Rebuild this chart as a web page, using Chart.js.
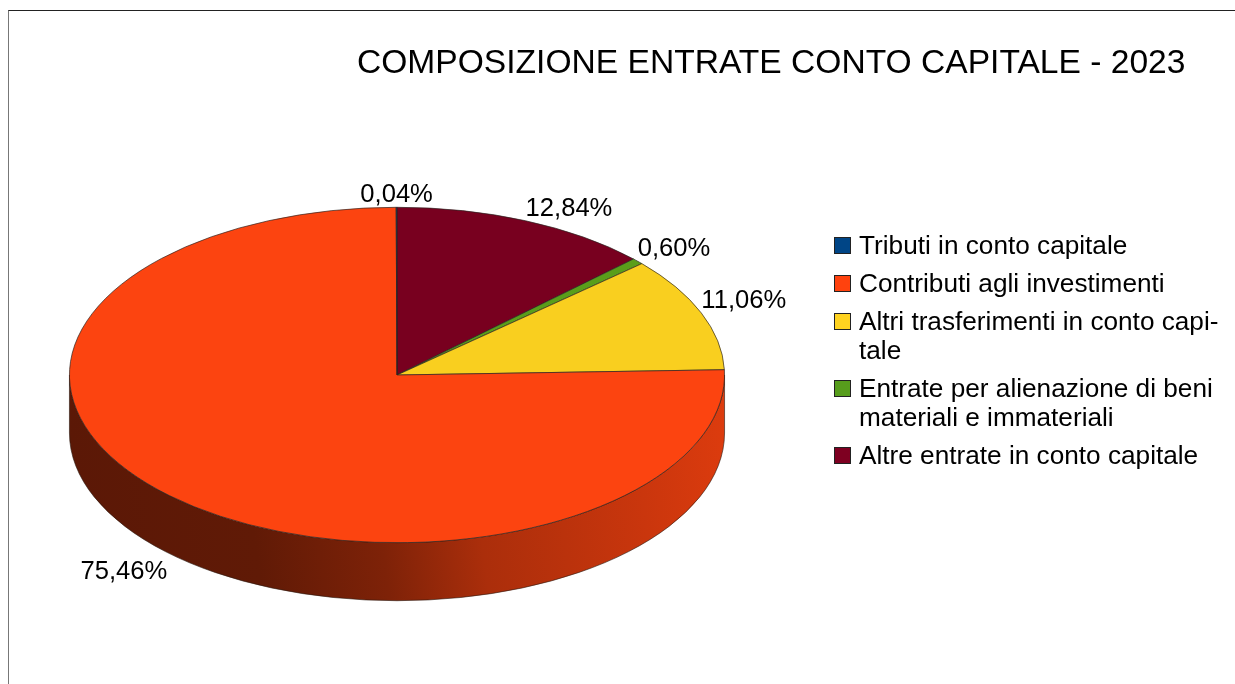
<!DOCTYPE html>
<html lang="it">
<head>
<meta charset="utf-8">
<title>Composizione entrate conto capitale - 2023</title>
<script src="https://cdn.jsdelivr.net/npm/chart.js@4"></script>
<style>
    html, body { margin: 0; padding: 0; background: #fff; }
    #wrap { position: relative; width: 1235px; height: 684px; overflow: hidden; font-family: "Liberation Sans", sans-serif; color: #000; }
    #wrap::before { content: ""; position: absolute; left: 8px; top: 10px; right: 0; bottom: 0; border-left: 1px solid #777; border-top: 1px solid #222; }
    canvas { position: absolute; left: 0; top: 0; }
    #titolo { position: absolute; left: 357px; top: 42px; font-size: 33.6px; line-height: 40px; white-space: nowrap; }
    #legenda { position: absolute; left: 834px; top: 231px; width: 400px; }
    .voce { position: relative; padding-left: 25px; font-size: 26.2px; line-height: 29px; margin-bottom: 9px; white-space: pre; }
    .voce i { position: absolute; left: 0; top: 6px; width: 15px; height: 15px; border: 1px solid #222; }
</style>
</head>
<body>
<div id="wrap">
    <canvas id="grafico" width="1235" height="684"></canvas>
    <div id="titolo"></div>
    <div id="legenda"></div>
</div>
<script>
const TITOLO = "COMPOSIZIONE ENTRATE CONTO CAPITALE - 2023";
const categorie = [
    "Tributi in conto capitale",
    "Contributi agli investimenti",
    "Altri trasferimenti in conto capi-\ntale",
    "Entrate per alienazione di beni\nmateriali e immateriali",
    "Altre entrate in conto capitale"
];
const valori = [0.04, 75.46, 11.06, 0.60, 12.84];
const colori = ["#004586", "#ff420e", "#ffd320", "#579d1c", "#7e0021"];
// sulla torta i colori sono un po' più spenti che in legenda
const coloriFette = ["#004586", "#fc4410", "#f9cf1f", "#5a9e1a", "#78001f"];

// geometria della torta "3D"
const SCHIACCIA = 0.512;  // rapporto asse verticale / orizzontale
const CENTRO_Y = 375;     // centro dell'ellisse sullo schermo
const SPESSORE = 58;      // altezza del bordo

// luci del bordo laterale: [posizione, fattore di luminosità]
const luciBordo = [[0, 0.36], [0.26, 0.38], [0.45, 0.5], [0.6, 0.68], [0.85, 0.8], [1, 0.88]];

document.getElementById("titolo").textContent = TITOLO;

const legenda = document.getElementById("legenda");
categorie.forEach((nome, i) => {
    const voce = document.createElement("div");
    voce.className = "voce";
    const quadrato = document.createElement("i");
    quadrato.style.background = colori[i];
    voce.appendChild(quadrato);
    voce.appendChild(document.createTextNode(nome));
    legenda.appendChild(voce);
});

function scurisci(hex, f) {
    const n = parseInt(hex.slice(1), 16);
    const r = Math.round((n >> 16 & 255) * f);
    const g = Math.round((n >> 8 & 255) * f);
    const b = Math.round((n & 255) * f);
    return `rgb(${r},${g},${b})`;
}

const torta3d = {
    id: "torta3d",
    beforeDatasetsDraw(chart) {
        const ctx = chart.ctx;
        const archi = chart.getDatasetMeta(0).data;
        const cx = archi[0].x;
        const rx = archi[0].outerRadius;
        const ry = rx * SCHIACCIA;

        // bordo laterale: solo la parte davanti (angoli 0..PI)
        archi.forEach((arco) => {
            const da = Math.max(arco.startAngle, 0);
            const a = Math.min(arco.endAngle, Math.PI);
            if (a <= da) return;
            const colore = arco.options.backgroundColor;
            const grad = ctx.createLinearGradient(cx - rx, CENTRO_Y + 80, cx + rx, CENTRO_Y - 10);
            luciBordo.forEach(([pos, f]) => grad.addColorStop(pos, scurisci(colore, f)));
            ctx.beginPath();
            ctx.ellipse(cx, CENTRO_Y, rx, ry, 0, da, a);
            ctx.ellipse(cx, CENTRO_Y + SPESSORE, rx, ry, 0, a, da, true);
            ctx.closePath();
            ctx.fillStyle = grad;
            ctx.fill();
            ctx.lineWidth = 0.6;
            ctx.strokeStyle = "#2a1a10";
            ctx.stroke();
        });

        // la faccia superiore viene schiacciata in un'ellisse
        ctx.save();
        ctx.translate(cx, CENTRO_Y);
        ctx.scale(1, SCHIACCIA);
        ctx.translate(-cx, -archi[0].y);
    },
    afterDatasetsDraw(chart) {
        const ctx = chart.ctx;
        ctx.restore();

        const archi = chart.getDatasetMeta(0).data;
        const dati = chart.data.datasets[0].data;
        ctx.save();
        ctx.fillStyle = "#000";
        ctx.font = '25.6px "Liberation Sans"';
        archi.forEach((arco, i) => {
            const medio = (arco.startAngle + arco.endAngle) / 2;
            const c = Math.cos(medio);
            const s = Math.sin(medio);
            const centrato = Math.abs(c) < 0.02;
            const x = arco.x + arco.outerRadius * c + (!centrato && c < 0 ? -2 : 0);
            let y = CENTRO_Y + arco.outerRadius * SCHIACCIA * s;
            y += s > 0 ? SPESSORE + 25 : -5;
            ctx.textAlign = centrato ? "center" : (c > 0 ? "left" : "right");
            ctx.fillText(dati[i].toFixed(2).replace(".", ",") + "%", x, y);
        });
        ctx.restore();
    }
};

// Chart.js gira in senso orario, qui le fette vanno in senso antiorario
new Chart(document.getElementById("grafico"), {
    type: "pie",
    data: {
        labels: categorie.slice().reverse(),
        datasets: [{
            data: valori.slice().reverse(),
            backgroundColor: coloriFette.slice().reverse(),
            borderColor: "#2a2320",
            borderWidth: 0.9
        }]
    },
    options: {
        responsive: false,
        animation: false,
        layout: { padding: { left: 69, right: 510, top: 14, bottom: 14 } },
        plugins: { legend: { display: false }, title: { display: false }, tooltip: { enabled: false } }
    },
    plugins: [torta3d]
});
</script>
</body>
</html>
